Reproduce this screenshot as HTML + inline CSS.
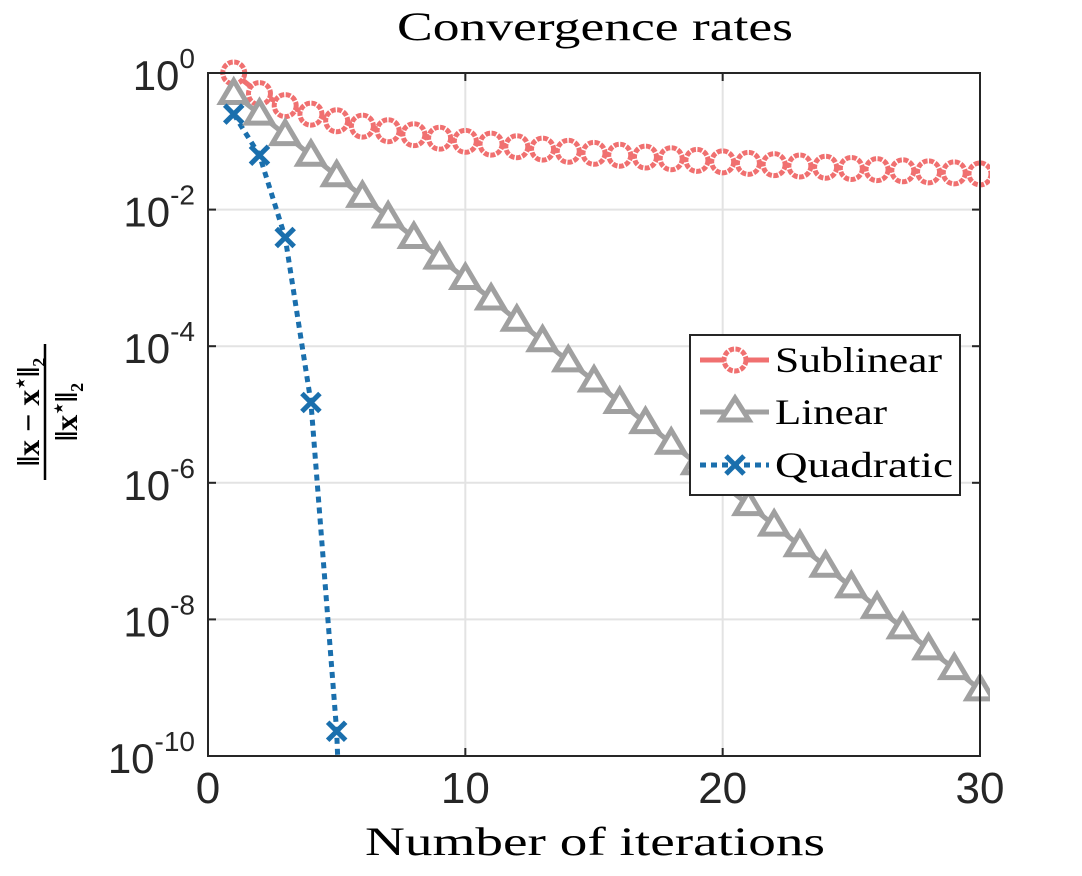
<!DOCTYPE html>
<html><head><meta charset="utf-8"><style>
html,body{margin:0;padding:0;background:#fff;width:1082px;height:876px;overflow:hidden}
svg{display:block}
svg text{font-family:"Liberation Serif",serif}
</style></head><body>
<svg id="chart" width="1082" height="876">
<rect width="1082" height="876" fill="#fff"/>
<g id="grid"></g>
<g id="series" clip-path="url(#clip)"></g>
<defs><clipPath id="clip"><rect x="190" y="50" width="800" height="706"/></clipPath></defs>
<rect x="208" y="73" width="772" height="683" fill="none" stroke="#262626" stroke-width="2"/>
<g id="ticks"></g>
<text x="397" y="40" font-size="40" textLength="396" lengthAdjust="spacingAndGlyphs">Convergence rates</text>
<text x="365" y="855" font-size="40" textLength="460" lengthAdjust="spacingAndGlyphs">Number of iterations</text>
<g transform="translate(45,412) rotate(-90)">
<text x="0" y="-6" font-size="32" text-anchor="middle" font-weight="bold">‖x − x<tspan font-size="20" dy="-12">⋆</tspan><tspan dy="12">‖</tspan><tspan font-size="18" dy="6">2</tspan></text>
<line x1="-68" y1="0" x2="68" y2="0" stroke="#000" stroke-width="2.5"/>
<text x="0" y="32" font-size="32" text-anchor="middle" font-weight="bold">‖x<tspan font-size="20" dy="-12">⋆</tspan><tspan dy="12">‖</tspan><tspan font-size="18" dy="6">2</tspan></text>
</g>
<g>
<rect x="690" y="335" width="270" height="160" fill="#fff" stroke="#262626" stroke-width="2"/>
<line x1="700" y1="360" x2="769" y2="360" stroke="#f07070" stroke-width="5"/>
<circle cx="735" cy="360" r="11" fill="#fff" stroke="#f07070" stroke-width="5" stroke-dasharray="5 1.5"/>
<text x="775" y="372" font-size="36" textLength="167" lengthAdjust="spacingAndGlyphs">Sublinear</text>
<line x1="700" y1="412" x2="769" y2="412" stroke="#a0a0a0" stroke-width="5"/>
<polygon points="735,398 749,420 721,420" fill="#fff" stroke="#a0a0a0" stroke-width="5"/>
<text x="775" y="424" font-size="36" textLength="112" lengthAdjust="spacingAndGlyphs">Linear</text>
<line x1="700" y1="465" x2="769" y2="465" stroke="#1a6fad" stroke-width="5" stroke-dasharray="6 5"/>
<path d="M726,456L744,474M744,456L726,474" stroke="#1a6fad" stroke-width="5"/>
<text x="775" y="477" font-size="36" textLength="178" lengthAdjust="spacingAndGlyphs">Quadratic</text>
</g>
</svg>
<script>
const iterations=[];for(let k=1;k<=30;k++)iterations.push(k);
const sublinear=[1,0.5,0.3333,0.25,0.2,0.1667,0.1429,0.125,0.1111,0.1,0.0909,0.0833,0.0769,0.0714,0.0667,0.0625,0.0588,0.0556,0.0526,0.05,0.0476,0.0455,0.0435,0.0417,0.04,0.0385,0.037,0.0357,0.0345,0.0333];
const linear=[0.5,0.25,0.125,0.0625,0.03125,0.0156,0.0078,0.0039,0.00195,9.8e-4,4.9e-4,2.4e-4,1.2e-4,6.1e-5,3.1e-5,1.5e-5,7.6e-6,3.8e-6,1.9e-6,9.5e-7,4.8e-7,2.4e-7,1.2e-7,6e-8,3e-8,1.5e-8,7.5e-9,3.7e-9,1.9e-9,9.3e-10];
const quadIter=[1,2,3,4,5,6];
const quadratic=[0.25,0.0625,0.0039,1.5e-5,2.3e-10,5.4e-20];
const xTicks=[0,10,20,30];
const yTickExp=[0,-2,-4,-6,-8,-10];
const X=v=>208+v/30*772;
const Y=v=>73+(-Math.log10(v))/10*683;
const NS="http://www.w3.org/2000/svg";
function mk(p,t,a){const e=document.createElementNS(NS,t);for(const k in a)e.setAttribute(k,a[k]);p.appendChild(e);return e;}
const grid=document.getElementById('grid'),ticks=document.getElementById('ticks'),ser=document.getElementById('series');
xTicks.forEach(t=>{const x=X(t);
 const g=mk(grid,'line',{x1:x,x2:x,y1:73,y2:756,stroke:'#e3e3e3','stroke-width':2});
 
 
 mk(ticks,'line',{x1:x,x2:x,y1:756,y2:748,stroke:'#262626','stroke-width':2});
 mk(ticks,'line',{x1:x,x2:x,y1:73,y2:81,stroke:'#262626','stroke-width':2});
 const l=mk(ticks,'text',{x:x,y:803,'font-size':44,'text-anchor':'middle',fill:'#262626',style:'font-family:"Liberation Sans",sans-serif'});l.textContent=t;
 
 
});
yTickExp.forEach(e=>{const y=Y(Math.pow(10,e));
 const g=mk(grid,'line',{x1:208,x2:980,y1:y,y2:y,stroke:'#e3e3e3','stroke-width':2});
 
 
 mk(ticks,'line',{x1:208,x2:216,y1:y,y2:y,stroke:'#262626','stroke-width':2});
 mk(ticks,'line',{x1:980,x2:972,y1:y,y2:y,stroke:'#262626','stroke-width':2});
 const l=mk(ticks,'text',{x:195,y:y+17,'font-size':42,'text-anchor':'end',fill:'#262626',style:'font-family:"Liberation Sans",sans-serif'});
 l.innerHTML='10<tspan font-size="28" dy="-22">'+e+'</tspan>';
 
 
});
function line(xs,ys,color,dash,name){
 const p=mk(ser,'polyline',{points:xs.map((x,i)=>X(x)+','+Y(ys[i])).join(' '),fill:'none',stroke:color,'stroke-width':5,'stroke-dasharray':dash||'none'});
 
 
}
line(iterations,sublinear,'#f07070','','sublinear-line');
line(iterations,linear,'#a0a0a0','','linear-line');
line(quadIter,quadratic,'#1a6fad','6 5','quadratic-line');
iterations.forEach((k,i)=>{const c=mk(ser,'circle',{cx:X(k),cy:Y(sublinear[i]),r:11,fill:'#fff',stroke:'#f07070','stroke-width':5,'stroke-dasharray':'5 1.5'});
 
 });
iterations.forEach((k,i)=>{const x=X(k),y=Y(linear[i]);const t=mk(ser,'polygon',{points:`${x},${y-13} ${x+13},${y+9} ${x-13},${y+9}`,fill:'#fff',stroke:'#a0a0a0','stroke-width':5});
 
 });
quadIter.forEach((k,i)=>{const x=X(k),y=Y(quadratic[i]);const m=mk(ser,'path',{d:`M${x-9},${y-9}L${x+9},${y+9}M${x+9},${y-9}L${x-9},${y+9}`,stroke:'#1a6fad','stroke-width':5});
 
 });
</script>
</body></html>
